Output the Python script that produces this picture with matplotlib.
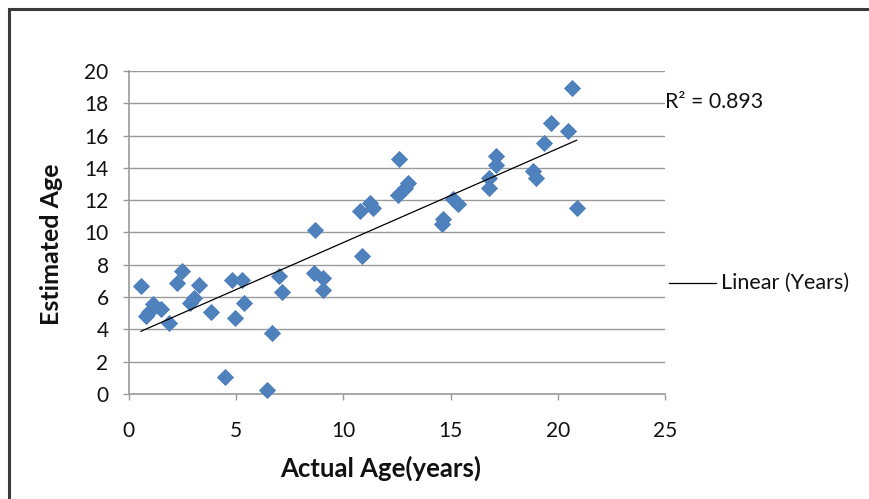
import numpy as np
import matplotlib
matplotlib.use("Agg")
import matplotlib.pyplot as plt
from matplotlib.lines import Line2D
from matplotlib.patches import Rectangle

actual_age = [0.57, 0.81, 0.96, 1.15, 1.50, 1.89, 2.24, 2.50, 2.86, 3.05,
              3.26, 3.82, 4.50, 4.81, 4.97, 5.28, 5.37, 6.44, 6.66, 7.00,
              7.14, 8.65, 9.07, 9.07, 8.68, 10.87, 10.78, 11.26, 11.40, 12.60,
              12.56, 12.87, 13.03, 14.64, 14.60, 15.10, 15.32, 16.78, 16.79, 17.09,
              17.09, 18.85, 18.96, 19.35, 19.66, 20.46, 20.64, 20.87]
estimated_age = [6.71, 4.85, 5.10, 5.55, 5.25, 4.38, 6.87, 7.60, 5.65, 5.93,
                 6.77, 5.10, 1.03, 7.06, 4.73, 7.06, 5.61, 0.25, 3.76, 7.33,
                 6.30, 7.51, 7.20, 6.44, 10.15, 8.54, 11.31, 11.80, 11.50, 14.54,
                 12.32, 12.77, 13.05, 10.85, 10.55, 12.05, 11.75, 13.35, 12.74, 14.72,
                 14.20, 13.80, 13.40, 15.56, 16.76, 16.30, 18.97, 11.54]
x_ticks = [0, 5, 10, 15, 20, 25]
y_ticks = [0, 2, 4, 6, 8, 10, 12, 14, 16, 18, 20]
r2_label = "R² = 0.893"
legend_label = "Linear (Years)"

plt.rcParams['font.family'] = ['Lato', 'DejaVu Sans']

W, H = 869, 499
fig = plt.figure(figsize=(W / 100, H / 100), dpi=100)
fig.patch.set_facecolor('white')

def fx(px):
    return px / W

def fy(py):
    return 1 - py / H

ax_l, ax_r, ax_t, ax_b = 128.7, 665.3, 71, 394
ax = fig.add_axes([fx(ax_l), fy(ax_b), fx(ax_r - ax_l), (ax_b - ax_t) / H])

x = np.array(actual_age)
y = np.array(estimated_age)
ax.plot(x, y, linestyle='none', marker='D', markersize=8.6,
        markerfacecolor='#4F81BD', markeredgecolor='#4A7EBB', markeredgewidth=0.6,
        zorder=3, clip_on=False)

m, b = np.polyfit(x, y, 1)
xs = np.array([x.min(), x.max()])
ax.plot(xs, m * xs + b, color='black', linewidth=0.9, zorder=4)

ax.set_xlim(0, 25)
ax.set_ylim(0, 20)
ax.set_xticks(x_ticks)
ax.set_yticks(y_ticks)
ax.yaxis.grid(True, color='#9a9a9a', linewidth=1.0)
ax.set_axisbelow(True)
for s in ['top', 'right']:
    ax.spines[s].set_visible(False)
for s in ['left', 'bottom']:
    ax.spines[s].set_color('#9a9a9a')
    ax.spines[s].set_linewidth(1.2)
ax.tick_params(axis='both', direction='out', length=4.5, width=1.0, color='#9a9a9a',
               labelsize=15, labelcolor='#111111')
ax.tick_params(axis='x', pad=15)
ax.tick_params(axis='y', pad=10)

fig.text(fx(381), fy(468), 'Actual Age(years)', ha='center', va='center',
         fontsize=18.5, fontweight='bold', color='#111111')
fig.text(fx(52), fy(244), 'Estimated Age', ha='center', va='center', rotation=90,
         fontsize=18, fontweight='bold', color='#111111')

fig.text(fx(665), fy(102), r2_label, ha='left', va='center', fontsize=15.3, color='#111111')

fig.add_artist(Line2D([fx(669), fx(716)], [fy(283), fy(283)], color='black', linewidth=0.9))
fig.text(fx(721), fy(283), legend_label, ha='left', va='center', fontsize=15.5, color='#111111')

fig.add_artist(Rectangle((fx(9), fy(H + 20)), fx(W + 20), (H + 11) / H,
                         fill=False, edgecolor='#3a3a3a', linewidth=2.2,
                         transform=fig.transFigure))

fig.savefig('out.png', dpi=100)
